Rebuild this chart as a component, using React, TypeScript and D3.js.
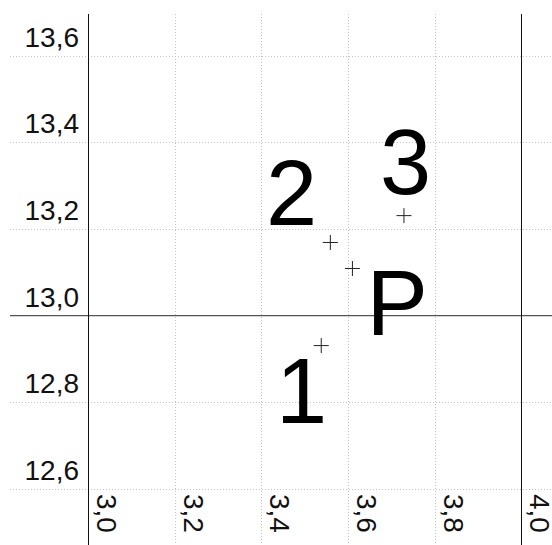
import React from "react";
import * as d3 from "d3";

// Point data
const pointLabels = ["1", "2", "3", "P"];
const pointX = [3.538, 3.559, 3.729, 3.61];
const pointY = [12.931, 13.169, 13.231, 13.109];

// Axis ticks
const xTicks = [3.0, 3.2, 3.4, 3.6, 3.8, 4.0];
const yTicks = [12.6, 12.8, 13.0, 13.2, 13.4, 13.6];

// Reference lines drawn solid
const xRefLines = [3.0, 4.0];
const yRefLines = [13.0];

const W = 552;
const H = 545;
const plot = { left: 10, right: 552, top: 14, bottom: 545 };

// Label offsets from each point, in pixels
const labelOffsets: [number, number][] = [
  [-19.7, 77],
  [-38.7, -17.3],
  [1.7, -21.7],
  [44.8, 66.7],
];

const fmt = d3
  .formatLocale({ decimal: ",", thousands: ".", grouping: [3], currency: ["", ""] })
  .format(".1f");

export default function App() {
  const x = d3.scaleLinear().domain([2.8192, 4.0709]).range([plot.left, plot.right]);
  const y = d3.scaleLinear().domain([12.4707, 13.6964]).range([plot.bottom, plot.top]);
  const font = "'Liberation Sans', Arial, sans-serif";
  const cross = 7.5;

  return (
    <svg
      width={W}
      height={H}
      style={{ position: "absolute", left: 0, top: 0, background: "#fff" }}
      fontFamily={font}
    >
      {/* dotted grid */}
      {xTicks
        .filter((t) => !xRefLines.includes(t))
        .map((t) => (
          <line
            key={"gx" + t}
            x1={Math.round(x(t)) + 0.5}
            x2={Math.round(x(t)) + 0.5}
            y1={plot.top}
            y2={plot.bottom}
            stroke="#c4c4c4"
            strokeDasharray="1,2"
          />
        ))}
      {yTicks
        .filter((t) => !yRefLines.includes(t))
        .map((t) => (
          <line
            key={"gy" + t}
            x1={plot.left}
            x2={plot.right}
            y1={Math.round(y(t)) + 0.5}
            y2={Math.round(y(t)) + 0.5}
            stroke="#c4c4c4"
            strokeDasharray="1,2"
          />
        ))}

      {/* solid reference lines */}
      {yRefLines.map((t) => (
        <line
          key={"ry" + t}
          x1={plot.left}
          x2={plot.right}
          y1={y(t)}
          y2={y(t)}
          stroke="#555"
          strokeWidth={1.3}
        />
      ))}
      {xRefLines.map((t) => (
        <line
          key={"rx" + t}
          x1={Math.round(x(t)) + 0.5}
          x2={Math.round(x(t)) + 0.5}
          y1={plot.top}
          y2={plot.bottom}
          stroke="#111"
          strokeWidth={1}
        />
      ))}

      {/* y tick labels */}
      {yTicks.map((t) => (
        <text
          key={"ly" + t}
          x={79}
          y={y(t) - 9}
          textAnchor="end"
          fontSize={28}
          fill="#111"
        >
          {fmt(t)}
        </text>
      ))}

      {/* x tick labels, rotated */}
      {xTicks.map((t) => (
        <text
          key={"lx" + t}
          transform={`translate(${x(t) + 9},${y(12.6) + 5}) rotate(90)`}
          textAnchor="start"
          fontSize={28}
          fill="#111"
        >
          {fmt(t)}
        </text>
      ))}

      {/* points */}
      {pointX.map((px, i) => {
        const cx = x(px);
        const cy = y(pointY[i]);
        return (
          <g key={"p" + i} stroke="#222" strokeWidth={1}>
            <line x1={cx - cross} x2={cx + cross} y1={cy} y2={cy} />
            <line x1={cx} x2={cx} y1={cy - cross} y2={cy + cross} />
          </g>
        );
      })}

      {/* point labels */}
      {pointLabels.map((lab, i) => (
        <text
          key={"t" + i}
          x={x(pointX[i]) + labelOffsets[i][0]}
          y={y(pointY[i]) + labelOffsets[i][1]}
          textAnchor="middle"
          fontSize={92}
          fill="#000"
        >
          {lab}
        </text>
      ))}
    </svg>
  );
}
